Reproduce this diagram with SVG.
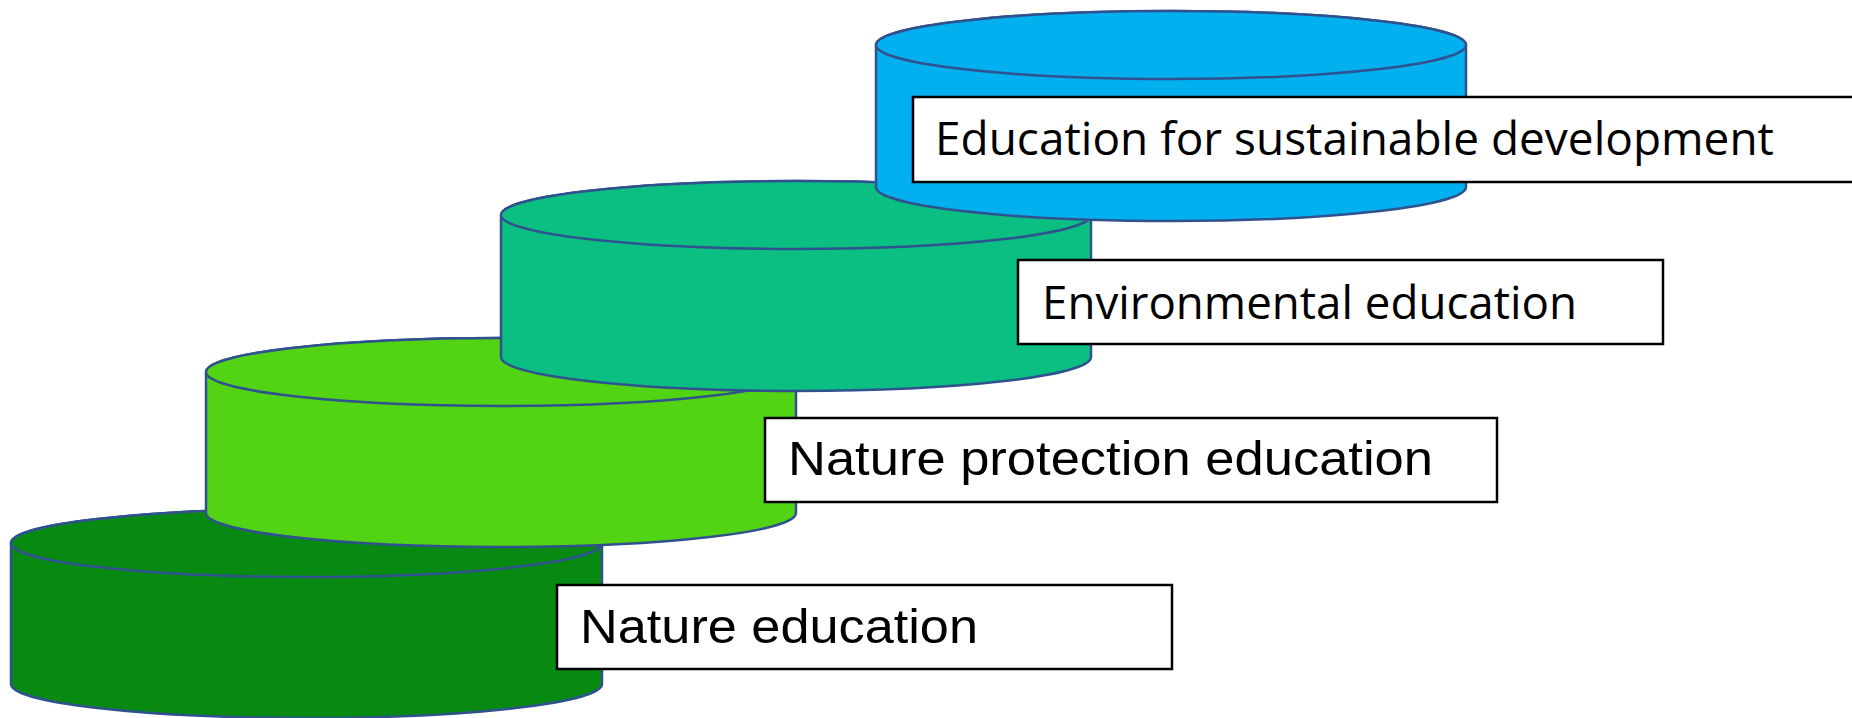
<svg xmlns="http://www.w3.org/2000/svg" width="1852" height="718" viewBox="0 0 1852 718">
<style>
.cyl{stroke:#2F528F;stroke-width:2.5;stroke-linejoin:round}
.box{fill:#FFFFFF;stroke:#000000;stroke-width:2.5}
.cal{font-family:"Open Sans","Noto Sans","DejaVu Sans",sans-serif;font-size:46px;fill:#000}
.ari{font-family:"Liberation Sans",Arial,sans-serif;font-size:48px;fill:#000}
</style>
<rect width="1852" height="718" fill="#FFFFFF"/>
<g id="cyl-nature">
<path class="cyl" fill="#088A12" d="M11,543 L11,684 A295.5,34 0 0 0 602,684 L602,543 A295.5,34 0 0 0 11,543 Z"/>
<ellipse class="cyl" fill="#088A12" cx="306.5" cy="543" rx="295.5" ry="34"/>
</g>
<g id="cyl-protection">
<path class="cyl" fill="#52D414" d="M206,372 L206,513 A295,34 0 0 0 796,513 L796,372 A295,34 0 0 0 206,372 Z"/>
<ellipse class="cyl" fill="#52D414" cx="501" cy="372" rx="295" ry="34"/>
</g>
<g id="cyl-environmental">
<path class="cyl" fill="#0BBE82" d="M501,215 L501,357 A295,34 0 0 0 1091,357 L1091,215 A295,34 0 0 0 501,215 Z"/>
<ellipse class="cyl" fill="#0BBE82" cx="796" cy="215" rx="295" ry="34"/>
</g>
<g id="cyl-sustainable">
<path class="cyl" fill="#02B0F0" d="M876,45 L876,187 A295,34 0 0 0 1466,187 L1466,45 A295,34 0 0 0 876,45 Z"/>
<ellipse class="cyl" fill="#02B0F0" cx="1171" cy="45" rx="295" ry="34"/>
</g>
<g id="label-sustainable">
<rect class="box" x="913" y="97" width="960" height="85"/>
<text class="cal" x="935" y="155" textLength="839" lengthAdjust="spacingAndGlyphs">Education for sustainable development</text>
</g>
<g id="label-environmental">
<rect class="box" x="1018" y="260" width="645" height="84"/>
<text class="cal" x="1042" y="319" textLength="535" lengthAdjust="spacingAndGlyphs">Environmental education</text>
</g>
<g id="label-protection">
<rect class="box" x="765" y="418" width="732" height="84"/>
<text class="ari" x="788" y="475" textLength="645" lengthAdjust="spacingAndGlyphs">Nature protection education</text>
</g>
<g id="label-nature">
<rect class="box" x="557" y="585" width="615" height="84"/>
<text class="ari" x="580" y="643" textLength="398" lengthAdjust="spacingAndGlyphs">Nature education</text>
</g>
<g id="connectors"/>
</svg>
